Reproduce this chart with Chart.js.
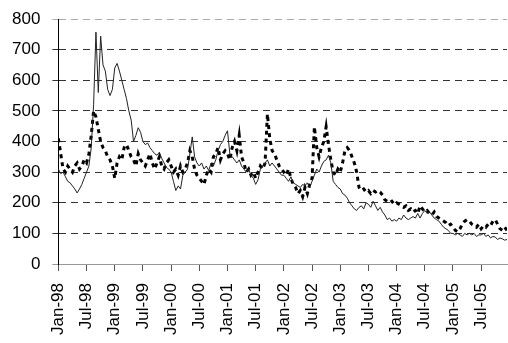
<!DOCTYPE html>
<html>
<head>
<meta charset="utf-8">
<script src="https://cdn.jsdelivr.net/npm/chart.js@4"></script>
<style>
  html, body { margin: 0; padding: 0; background: #fff; }
  #wrap { width: 508px; height: 343px; }
</style>
</head>
<body>
<div id="wrap"><canvas id="chart"></canvas></div>
<script>
// half-monthly readings, Jan-98 onwards (index i = month i/2)
const tickLabels = ['Jan-98', 'Jul-98', 'Jan-99', 'Jul-99', 'Jan-00', 'Jul-00', 'Jan-01', 'Jul-01',
  'Jan-02', 'Jul-02', 'Jan-03', 'Jul-03', 'Jan-04', 'Jul-04', 'Jan-05', 'Jul-05'];

const solidSeries = [
  // 1998
  310, 295, 300, 285, 270, 265, 255, 245, 232, 245, 260, 280, 300, 320, 380, 520, 757, 560, 744, 650, 630, 570, 550, 570,
  // 1999
  640, 655, 630, 600, 570, 540, 500, 470, 400, 420, 445, 430, 400, 390, 395, 380, 370, 360, 355, 365, 345, 330, 315, 310,
  // 2000
  300, 270, 240, 255, 245, 290, 300, 310, 360, 415, 350, 330, 320, 330, 310, 320, 305, 330, 320, 340, 370, 390, 400, 420,
  // 2001
  435, 360, 350, 340, 330, 340, 320, 310, 300, 310, 290, 280, 260, 275, 310, 320, 330, 340, 320, 330, 320, 310, 300, 290,
  // 2002
  290, 280, 270, 285, 265, 260, 255, 250, 260, 255, 265, 250, 270, 290, 310, 300, 320, 335, 340, 355, 330, 270, 260, 250,
  // 2003
  245, 230, 225, 215, 200, 190, 180, 175, 185, 190, 180, 200, 195, 185, 205, 190, 175, 185, 170, 160, 145, 150, 140, 145,
  // 2004
  140, 150, 145, 160, 150, 145, 150, 155, 150, 165, 150, 165, 175, 165, 170, 160, 150, 145, 140, 130, 120, 115, 110, 100,
  // 2005
  100, 95, 100, 95, 90, 100, 95, 100, 95, 100, 90, 95, 95, 100, 90, 95, 85, 90, 88, 80, 85, 82, 78, 80
];

const dashedSeries = [
  // 1998
  410, 360, 310, 300, 320, 310, 300, 320, 330, 310, 320, 340, 330, 360, 420, 500, 480, 440, 400, 380, 370, 350, 340, 320,
  // 1999
  280, 330, 350, 340, 380, 390, 370, 350, 340, 320, 360, 340, 330, 320, 340, 360, 330, 310, 330, 350, 320, 310, 330, 340,
  // 2000
  320, 300, 310, 290, 320, 300, 310, 330, 370, 350, 310, 290, 280, 270, 260, 290, 310, 300, 350, 360, 380, 340, 360, 370,
  // 2001
  360, 340, 380, 400, 370, 420, 350, 330, 300, 310, 290, 300, 280, 300, 320, 310, 330, 490, 410, 370, 360, 340, 320, 310,
  // 2002
  300, 290, 310, 280, 260, 250, 230, 240, 220, 250, 230, 260, 280, 448, 380, 350, 380, 400, 448, 390, 340, 300, 290, 310,
  // 2003
  300, 330, 370, 380, 370, 350, 330, 300, 250, 240, 245, 235, 240, 230, 240, 235, 240, 235, 225, 210, 205, 200, 205, 195,
  // 2004
  200, 195, 190, 185, 190, 175, 180, 170, 175, 165, 190, 180, 170, 175, 165, 160, 170, 155, 150, 145, 140, 135, 125, 130,
  // 2005
  120, 110, 105, 115, 130, 140, 145, 140, 130, 125, 120, 130, 115, 125, 120, 130, 125, 140, 145, 130, 115, 110, 120, 110
];

const yTicks = [0, 100, 200, 300, 400, 500, 600, 700, 800];

const toPoints = arr => arr.map((v, i) => ({ x: i / 2, y: v }));
const font = { family: "'Liberation Sans', Arial, sans-serif", size: 17 };

new Chart(document.getElementById('chart'), {
  type: 'line',
  data: {
    datasets: [
      {
        data: toPoints(solidSeries),
        borderColor: '#222',
        borderWidth: 1,
        pointRadius: 0,
        tension: 0,
        order: 1,
      },
      {
        data: toPoints(dashedSeries),
        borderColor: '#000',
        borderWidth: 3,
        borderDash: [4, 4],
        pointRadius: 0,
        tension: 0,
        order: 2,
      },
    ],
  },
  options: {
    responsive: true,
    maintainAspectRatio: false,
    animation: false,
    layout: { padding: { left: 0, top: 19, right: 1, bottom: 0 } },
    plugins: { legend: { display: false }, tooltip: { enabled: false } },
    scales: {
      x: {
        type: 'linear',
        min: 0,
        max: 95.5,
        grid: { drawOnChartArea: false, tickLength: 7, color: '#555' },
        border: { color: '#999', width: 1 },
        ticks: {
          stepSize: 6,
          includeBounds: false,
          autoSkip: false,
          minRotation: 90,
          maxRotation: 90,
          padding: 12,
          color: '#000',
          font,
          callback: v => tickLabels[Math.round(v / 6)] || '',
        },
        afterFit: s => {
          s.height = 79;
          s.paddingLeft = 0;
          s.paddingRight = 0;
        },
      },
      y: {
        min: yTicks[0],
        max: yTicks[yTicks.length - 1],
        grid: {
          tickLength: 6,
          color: ctx => {
            const v = ctx.tick ? ctx.tick.value : null;
            if (v === 800) return '#aaa';
            if (v === 0) return '#999';
            return '#333';
          },
        },
        border: { color: '#000', width: 1, dash: [7, 5] },
        ticks: { stepSize: 100, padding: 12, color: '#000', font },
        afterFit: s => {
          s.paddingTop = 0;
          s.paddingBottom = 0;
        },
      },
    },
  },
});
</script>
</body>
</html>
